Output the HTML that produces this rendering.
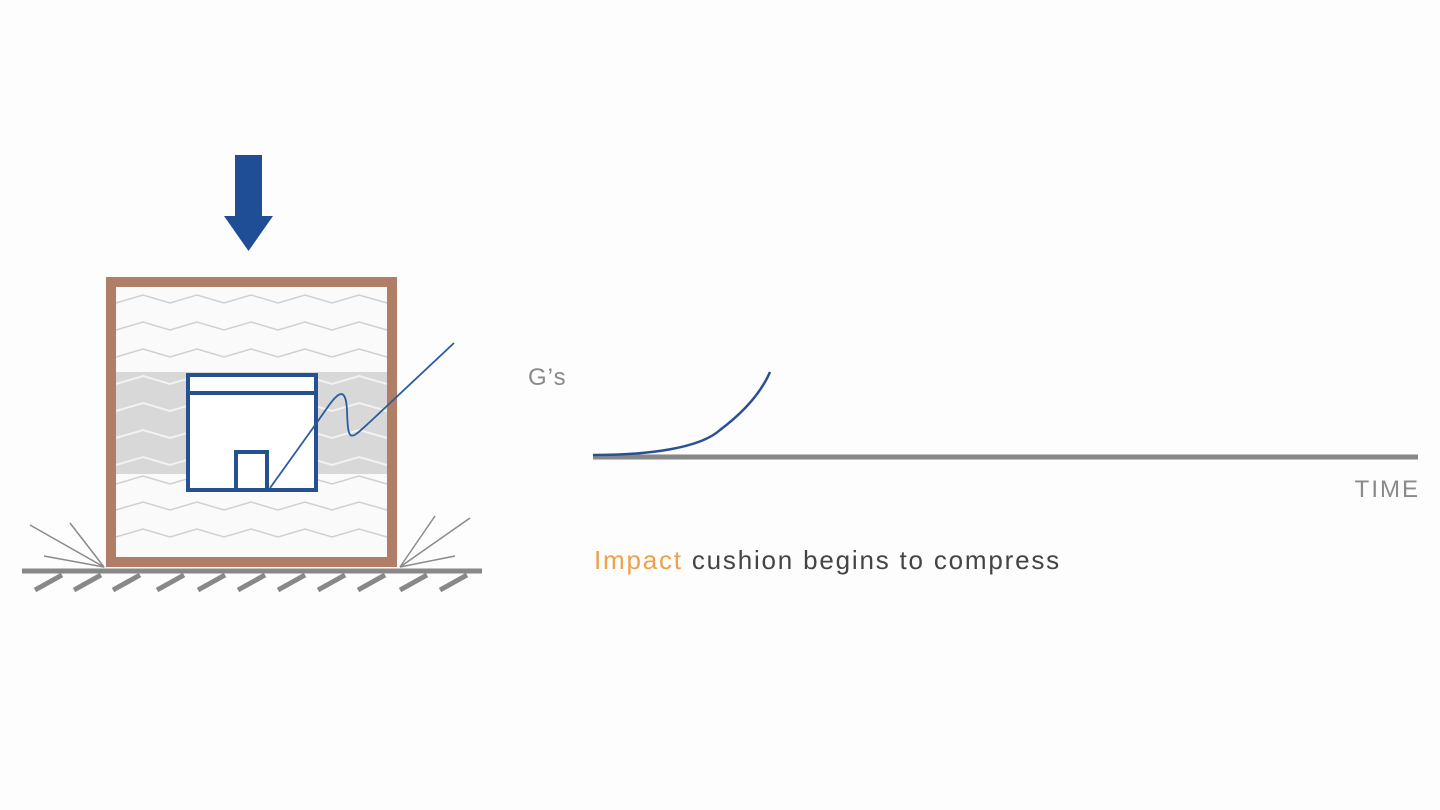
<!DOCTYPE html>
<html><head><meta charset="utf-8"><style>
body{margin:0;background:#fdfdfd;}
svg{display:block}
text{font-family:"Liberation Sans",sans-serif;}
</style></head><body>
<svg width="1440" height="810" viewBox="0 0 1440 810" xmlns="http://www.w3.org/2000/svg">
<rect width="1440" height="810" fill="#fdfdfd"/>
<rect x="235" y="155" width="27" height="62" fill="#1f4e96"/>
<polygon points="224,216 273,216 248.5,251" fill="#1f4e96"/>
<rect x="116" y="288" width="271" height="269" fill="#fafafa"/>
<rect x="116" y="372" width="271" height="102" fill="#d8d8d8"/>
<g fill="none" stroke="#d0d0d0" stroke-width="1.5">
<polyline points="116,303 143,295 170,303 197,295 224,303 251,295 278,303 305,295 332,303 359,295 387,303"/>
<polyline points="116,330 143,322 170,330 197,322 224,330 251,322 278,330 305,322 332,330 359,322 387,330"/>
<polyline points="116,357 143,349 170,357 197,349 224,357 251,349 278,357 305,349 332,357 359,349 387,357"/>
<polyline points="116,484 143,476 170,484 197,476 224,484 251,476 278,484 305,476 332,484 359,476 387,484"/>
<polyline points="116,510 143,502 170,510 197,502 224,510 251,502 278,510 305,502 332,510 359,502 387,510"/>
<polyline points="116,537 143,529 170,537 197,529 224,537 251,529 278,537 305,529 332,537 359,529 387,537"/>
</g>
<g fill="none" stroke="#f2f2f2" stroke-width="2">
<polyline points="116,384 143,376 170,384 197,376 224,384 251,376 278,384 305,376 332,384 359,376 387,384"/>
<polyline points="116,411 143,403 170,411 197,403 224,411 251,403 278,411 305,403 332,411 359,403 387,411"/>
<polyline points="116,438 143,430 170,438 197,430 224,438 251,430 278,438 305,430 332,438 359,430 387,438"/>
<polyline points="116,465 143,457 170,465 197,457 224,465 251,457 278,465 305,457 332,465 359,457 387,465"/>
</g>
<rect x="111" y="282" width="281" height="280" fill="none" stroke="#b07e66" stroke-width="10"/>
<rect x="188" y="375" width="128" height="115" fill="#fff" stroke="#26508f" stroke-width="4"/>
<line x1="188" y1="393" x2="316" y2="393" stroke="#26508f" stroke-width="4"/>
<rect x="236" y="452" width="31" height="38" fill="#fff" stroke="#26508f" stroke-width="4"/>
<path d="M270,488 L313,428 C330,405 345,375 347,410 C348,445 350,440 372,420 L454,343" fill="none" stroke="#2a5ba0" stroke-width="1.8"/>
<line x1="22" y1="571" x2="482" y2="571" stroke="#888" stroke-width="5"/>
<g stroke="#888" stroke-width="5">
<line x1="35" y1="590" x2="62" y2="575"/><line x1="74" y1="590" x2="101" y2="575"/>
<line x1="113" y1="590" x2="140" y2="575"/><line x1="157" y1="590" x2="184" y2="575"/>
<line x1="198" y1="590" x2="225" y2="575"/><line x1="238" y1="590" x2="265" y2="575"/>
<line x1="278" y1="590" x2="305" y2="575"/><line x1="318" y1="590" x2="345" y2="575"/>
<line x1="358" y1="590" x2="385" y2="575"/><line x1="400" y1="590" x2="427" y2="575"/>
<line x1="440" y1="590" x2="467" y2="575"/>
</g>
<g stroke="#8a8a8a" stroke-width="1.5">
<line x1="104" y1="567" x2="30" y2="525"/><line x1="104" y1="567" x2="70" y2="523"/><line x1="104" y1="567" x2="44" y2="556"/>
<line x1="400" y1="567" x2="435" y2="516"/><line x1="400" y1="567" x2="470" y2="518"/><line x1="400" y1="567" x2="455" y2="556"/>
</g>
<text x="528" y="385" font-size="24" letter-spacing="1" fill="#8a8a8a">G’s</text>
<line x1="593" y1="457" x2="1418" y2="457" stroke="#888" stroke-width="5"/>
<path d="M593,455 C650,455 700,448 720,430 C740,415 760,395 770,372" fill="none" stroke="#2a4f96" stroke-width="2.5"/>
<text x="1420" y="497" font-size="24" letter-spacing="2" fill="#8a8a8a" text-anchor="end">TIME</text>
<text x="594" y="569" font-size="26" letter-spacing="1.8" fill="#444"><tspan fill="#f0a04a">Impact</tspan> cushion begins to compress</text>
</svg>
</body></html>
